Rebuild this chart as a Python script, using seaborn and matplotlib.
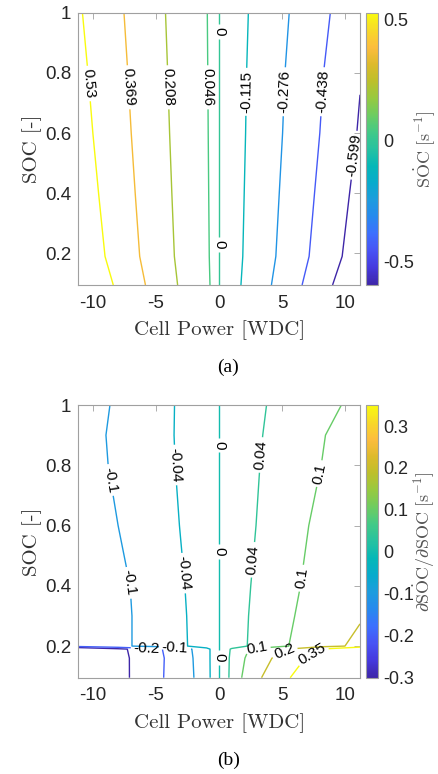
import numpy as np
import matplotlib
matplotlib.use("Agg")
import matplotlib.pyplot as plt
import seaborn as sns
from matplotlib.colors import Normalize
from matplotlib.cm import ScalarMappable
from matplotlib.ticker import FuncFormatter

# ── Data ─────────────────────────────────────────────────────────────────────
# (a) SOC rate over cell power / SOC
POWER_A = [-11.15, 0.0, 11.15]
SOC_A = [0.095, 0.19, 0.4, 0.6, 0.8, 1.0]
SOCDOT = [
    [0.705, 0.0, -0.744],
    [0.654, 0.0, -0.686],
    [0.619, 0.0, -0.647],
    [0.591, 0.0, -0.613],
    [0.569, 0.0, -0.591],
    [0.546, 0.0, -0.555],
]
LEVELS_A = [-0.599, -0.438, -0.276, -0.115, 0, 0.046, 0.208, 0.369, 0.53]
CBAR_TICKS_A = [-0.5, 0, 0.5]

# (b) derivative of SOC rate wrt SOC
POWER_B = [-11.15, -8, -5, -2.5, -1, 0, 1, 2.5, 5, 8, 11.15]
SOC_B = [0.095, 0.16, 0.19, 0.2, 0.3, 0.4, 0.6, 0.8, 0.9, 1.0]
DSOCDOT = [
    [-0.446, -0.332, -0.225, -0.122, -0.056, 0.0, 0.052, 0.144, 0.308, 0.510, 0.725],
    [-0.445, -0.330, -0.229, -0.118, -0.055, 0.0, 0.050, 0.122, 0.238, 0.425, 0.625],
    [-0.439, -0.325, -0.222, -0.113, -0.055, 0.0, 0.046, 0.106, 0.175, 0.350, 0.579],
    [-0.158, -0.115, -0.074, -0.040, -0.016, 0.0, 0.018, 0.045, 0.089, 0.154, 0.228],
    [-0.159, -0.115, -0.074, -0.039, -0.016, 0.0, 0.017, 0.043, 0.083, 0.135, 0.190],
    [-0.157, -0.113, -0.072, -0.037, -0.015, 0.0, 0.016, 0.040, 0.078, 0.124, 0.173],
    [-0.140, -0.100, -0.063, -0.032, -0.013, 0.0, 0.014, 0.034, 0.070, 0.113, 0.160],
    [-0.127, -0.091, -0.057, -0.029, -0.012, 0.0, 0.012, 0.031, 0.062, 0.099, 0.140],
    [-0.125, -0.089, -0.056, -0.028, -0.011, 0.0, 0.011, 0.029, 0.058, 0.095, 0.133],
    [-0.131, -0.092, -0.057, -0.028, -0.011, 0.0, 0.011, 0.027, 0.053, 0.083, 0.115],
]
LEVELS_B = [-0.3, -0.2, -0.1, -0.04, 0, 0.04, 0.1, 0.2, 0.35]
CBAR_TICKS_B = [-0.3, -0.2, -0.1, 0, 0.1, 0.2, 0.3]

X_TICKS = [-10, -5, 0, 5, 10]
Y_TICKS = [0.2, 0.4, 0.6, 0.8, 1.0]

# parula-like anchors (MATLAB default map)
PARULA = [(0.242, 0.150, 0.660), (0.272, 0.224, 0.870), (0.281, 0.323, 0.958),
          (0.238, 0.435, 0.996), (0.154, 0.538, 0.934), (0.115, 0.610, 0.870),
          (0.030, 0.670, 0.800), (0.020, 0.720, 0.720), (0.150, 0.760, 0.630),
          (0.260, 0.790, 0.530), (0.430, 0.800, 0.380), (0.590, 0.790, 0.250),
          (0.740, 0.750, 0.170), (0.870, 0.730, 0.170), (0.990, 0.740, 0.240),
          (0.970, 0.850, 0.160), (0.976, 0.983, 0.054)]

# ── Style ────────────────────────────────────────────────────────────────────
sns.set_style("white")
plt.rcParams["font.family"] = ["Liberation Sans", "DejaVu Sans"]
plt.rcParams["mathtext.fontset"] = "cm"
plt.rcParams["axes.unicode_minus"] = False

parula = sns.blend_palette(PARULA, n_colors=256, as_cmap=True)
EDGE = "#a0a0a0"
TXT = "#262626"
gfmt = FuncFormatter(lambda v, _: f"{v:g}")

fig = plt.figure(figsize=(4.39, 7.74), dpi=100)


def panel(ax_rect, cb_rect, power, soc, z, levels, cticks, clabel_txt,
          label_pos, caption, cap_y):
    ax = fig.add_axes(ax_rect)
    cax = fig.add_axes(cb_rect)
    norm = Normalize(vmin=min(levels), vmax=max(levels))
    P, S = np.meshgrid(power, soc)
    Z = np.array(z)
    # one contour set per level, so each can be labelled on its own
    for lev in levels:
        cs = ax.contour(P, S, Z, levels=[lev], cmap=parula, norm=norm,
                        linewidths=1.0)
        pts = label_pos.get(lev)
        if pts:
            cs.clabel(manual=pts, fmt=lambda v: f"{v:g}", fontsize=11,
                      colors="k", inline=True, inline_spacing=3)

    ax.set_xlim(-11.15, 11.15)
    ax.set_ylim(0.095, 1.0)
    ax.set_xticks(X_TICKS)
    ax.set_yticks(Y_TICKS)
    ax.yaxis.set_major_formatter(gfmt)
    ax.tick_params(direction="in", top=True, right=True, length=4,
                   width=0.6, color=EDGE, labelsize=13.5, labelcolor=TXT)
    ax.tick_params(axis="x", pad=7)
    ax.tick_params(axis="y", pad=5)
    for sp in ax.spines.values():
        sp.set_color(EDGE)
        sp.set_linewidth(0.8)
    ax.set_xlabel("Cell Power [WDC]", family="cmr10", fontsize=15,
                  color="#333333", labelpad=6)
    ax.set_ylabel("SOC [-]", family="cmr10", fontsize=15,
                  color="#333333", labelpad=2)

    cb = fig.colorbar(ScalarMappable(norm=norm, cmap=parula), cax=cax)
    cb.set_ticks(cticks)
    cb.ax.yaxis.set_major_formatter(gfmt)
    cb.ax.tick_params(direction="in", length=3, width=0.6, color=EDGE,
                      labelsize=13, labelcolor=TXT, pad=4)
    cb.outline.set_edgecolor(EDGE)
    cb.outline.set_linewidth(0.8)
    cb.set_label(clabel_txt, fontsize=13, color="#555555")
    cb.ax.yaxis.set_label_coords(5.0, 0.5)
    cb.ax.yaxis.label.set_verticalalignment("center")

    fig.text(0.52, cap_y, caption, family="Liberation Serif", fontsize=14,
             ha="center", va="center", color="k")
    return ax


panel([0.1784, 0.6318, 0.6417, 0.3518], [0.8337, 0.6318, 0.0267, 0.3518],
      POWER_A, SOC_A, SOCDOT, LEVELS_A, CBAR_TICKS_A,
      r"$\mathrm{S\dot{O}C}\ [\mathrm{s}^{-1}]$",
      {0.53: [(-10.2, 0.765)], 0.369: [(-7.2, 0.752)],
       0.208: [(-4.05, 0.752)], 0.046: [(-0.85, 0.752)],
       0: [(0, 0.937), (0, 0.229)], -0.115: [(2.2, 0.737)],
       -0.276: [(5.3, 0.737)], -0.438: [(8.3, 0.737)],
       -0.599: [(10.75, 0.526)]},
      "(a)", 0.5258)

panel([0.1784, 0.1244, 0.6417, 0.3523], [0.8337, 0.1244, 0.0267, 0.3523],
      POWER_B, SOC_B, DSOCDOT, LEVELS_B, CBAR_TICKS_B,
      r"$\partial\mathrm{S\dot{O}C}/\partial\mathrm{SOC}\ [\mathrm{s}^{-1}]$",
      {-0.2: [(-5.73, 0.19)],
       -0.1: [(-8.64, 0.751), (-7.24, 0.409), (-3.49, 0.195)],
       -0.04: [(-3.43, 0.801), (-2.83, 0.442)],
       0: [(0, 0.867), (0, 0.514), (0, 0.162)],
       0.04: [(3.38, 0.834), (2.77, 0.486)],
       0.1: [(7.87, 0.773), (6.55, 0.425), (3.0, 0.195)],
       0.2: [(5.15, 0.185)], 0.35: [(7.42, 0.17)]},
      "(b)", 0.0181)

fig.savefig("out.png", dpi=100)
